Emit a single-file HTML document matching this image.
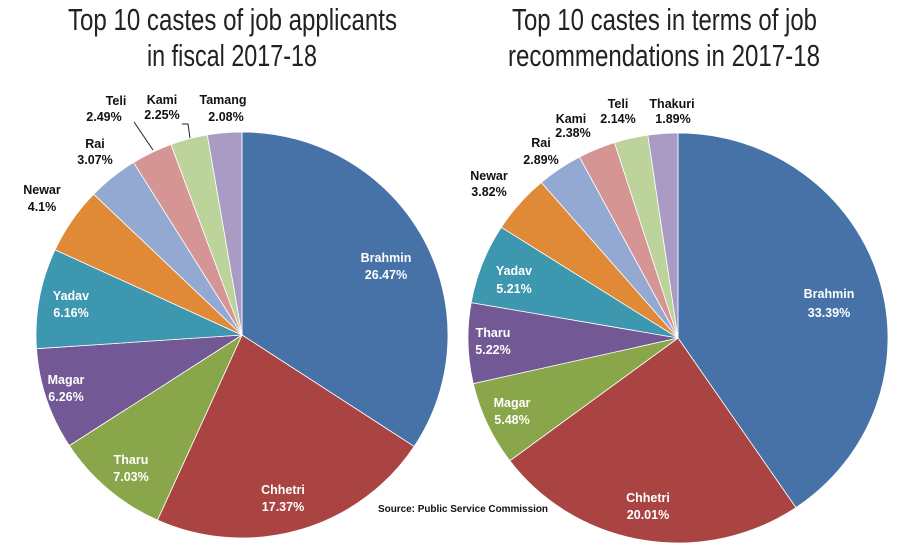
<!DOCTYPE html>
<html><head><meta charset="utf-8"><style>
body{margin:0;background:#fff;width:900px;height:547px;overflow:hidden}
svg{display:block}
.t{font-family:"Liberation Sans Narrow","Liberation Sans",sans-serif;font-size:31px;fill:#222}
.w{font-family:"Liberation Sans",sans-serif;font-weight:bold;font-size:12.5px;fill:#fff;text-anchor:middle}
.b{font-family:"Liberation Sans",sans-serif;font-weight:bold;font-size:12.5px;fill:#111;text-anchor:middle}
</style></head><body>
<svg id="s" width="900" height="547" viewBox="0 0 900 547">
<text class="t" x="68" y="30" textLength="329" lengthAdjust="spacingAndGlyphs">Top 10 castes of job applicants</text>
<text class="t" x="147" y="66" textLength="170" lengthAdjust="spacingAndGlyphs">in fiscal 2017-18</text>
<text class="t" x="512" y="30" textLength="305" lengthAdjust="spacingAndGlyphs">Top 10 castes in terms of job</text>
<text class="t" x="508" y="66" textLength="312" lengthAdjust="spacingAndGlyphs">recommendations in 2017-18</text>
<g id="p1"></g><g id="p2"></g>
<line x1="134" y1="122" x2="153" y2="150" stroke="#222" stroke-width="1"/>
<polyline points="182,124 188,124 190,138" fill="none" stroke="#222" stroke-width="1"/>
<text class="w" x="386" y="262">Brahmin</text><text class="w" x="386" y="279">26.47%</text>
<text class="w" x="283" y="494">Chhetri</text><text class="w" x="283" y="511">17.37%</text>
<text class="w" x="131" y="464">Tharu</text><text class="w" x="131" y="481">7.03%</text>
<text class="w" x="66" y="384">Magar</text><text class="w" x="66" y="401">6.26%</text>
<text class="w" x="71" y="300">Yadav</text><text class="w" x="71" y="317">6.16%</text>
<text class="b" x="42" y="194">Newar</text><text class="b" x="42" y="211">4.1%</text>
<text class="b" x="95" y="148">Rai</text><text class="b" x="95" y="164">3.07%</text>
<text class="b" x="116" y="105">Teli</text><text class="b" x="104" y="121">2.49%</text>
<text class="b" x="162" y="104">Kami</text><text class="b" x="162" y="119">2.25%</text>
<text class="b" x="223" y="104">Tamang</text><text class="b" x="226" y="121">2.08%</text>
<text class="w" x="829" y="298">Brahmin</text><text class="w" x="829" y="317">33.39%</text>
<text class="w" x="648" y="502">Chhetri</text><text class="w" x="648" y="519">20.01%</text>
<text class="w" x="512" y="407">Magar</text><text class="w" x="512" y="424">5.48%</text>
<text class="w" x="493" y="337">Tharu</text><text class="w" x="493" y="354">5.22%</text>
<text class="w" x="514" y="275">Yadav</text><text class="w" x="514" y="293">5.21%</text>
<text class="b" x="489" y="180">Newar</text><text class="b" x="489" y="196">3.82%</text>
<text class="b" x="541" y="147">Rai</text><text class="b" x="541" y="164">2.89%</text>
<text class="b" x="571" y="123">Kami</text><text class="b" x="573" y="137">2.38%</text>
<text class="b" x="618" y="108">Teli</text><text class="b" x="618" y="123">2.14%</text>
<text class="b" x="672" y="108">Thakuri</text><text class="b" x="673" y="123">1.89%</text>
<text x="378" y="512" textLength="170" lengthAdjust="spacingAndGlyphs" style="font-family:'Liberation Sans',sans-serif;font-weight:bold;font-size:10px;fill:#111">Source: Public Service Commission</text>
</svg>
<script>
function pie(id,cx,cy,rx,ry,vals,cols){
 var g=document.getElementById(id),tot=vals.reduce((a,b)=>a+b,0),a=0,h='';
 for(var i=0;i<vals.length;i++){
  var a2=a+vals[i]/tot*2*Math.PI;
  var x1=cx+rx*Math.sin(a),y1=cy-ry*Math.cos(a),x2=cx+rx*Math.sin(a2),y2=cy-ry*Math.cos(a2);
  var l=(a2-a)>Math.PI?1:0;
  h+='<path d="M'+cx+','+cy+'L'+x1+','+y1+'A'+rx+','+ry+' 0 '+l+' 1 '+x2+','+y2+'Z" fill="'+cols[i]+'" stroke="#fff" stroke-width="0.8"/>';
  a=a2;}
 g.innerHTML=h;
}
var C1=['#4672a8','#a94442','#8aa64a','#735896','#3d97ae','#e08a38','#93a9d2','#d69595','#bcd49b','#a99bc4'];
pie('p1',242,335,206,203,[26.47,17.37,7.03,6.26,6.16,4.1,3.07,2.49,2.25,2.08],C1);
pie('p2',678,338,210,205,[33.39,20.01,5.48,5.22,5.21,3.82,2.89,2.38,2.14,1.89],C1);
</script>
</body></html>
